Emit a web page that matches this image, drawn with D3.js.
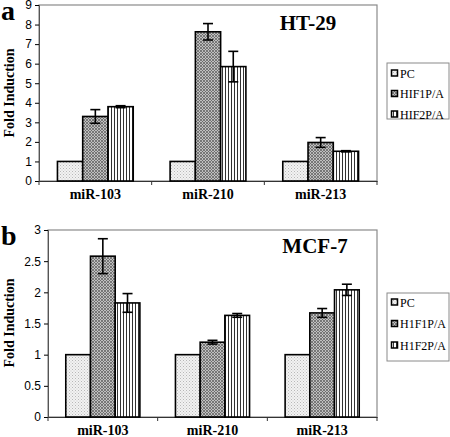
<!DOCTYPE html>
<html><head><meta charset="utf-8">
<script src="https://cdn.jsdelivr.net/npm/d3@7"></script>
<style>body{margin:0;background:#fff}svg{display:block}</style>
</head><body>
<svg id="c" width="450" height="437"></svg>
<script>
const categories = ["miR-103","miR-210","miR-213"];
const series = ["PC","HIF1P/A","HIF2P/A"];
const legendLabelsB = ["PC","H1F1P/A","H1F2P/A"];
// Panel a: HT-29
const htValues = [[1,1,1],[3.3,7.63,1.97],[3.8,5.85,1.52]];
const htErrors = [[0,0,0],[0.35,0.42,0.25],[0.05,0.78,0.03]];
const htTicks = [0,1,2,3,4,5,6,7,8,9];
// Panel b: MCF-7
const mcfValues = [[1,1,1],[2.58,1.2,1.67],[1.83,1.63,2.04]];
const mcfErrors = [[0,0,0],[0.28,0.03,0.07],[0.15,0.03,0.09]];
const mcfTicks = [0,0.5,1,1.5,2,2.5,3];

const svg = d3.select("#c");
const defs = svg.append("defs");
const p1 = defs.append("pattern").attr("id","pPC").attr("width",3).attr("height",3).attr("patternUnits","userSpaceOnUse");
p1.append("rect").attr("width",3).attr("height",3).attr("fill","#f2f2f2");
p1.append("rect").attr("x",0).attr("y",0).attr("width",1).attr("height",1).attr("fill","#b8b8b8");
p1.append("rect").attr("x",1.5).attr("y",1.5).attr("width",1).attr("height",1).attr("fill","#c8c8c8");
const p2 = defs.append("pattern").attr("id","pH1").attr("width",3).attr("height",3).attr("patternUnits","userSpaceOnUse");
p2.append("rect").attr("width",3).attr("height",3).attr("fill","#c0c0c0");
p2.append("path").attr("d","M0,0L3,3M3,0L0,3").attr("stroke","#666").attr("stroke-width",0.8);
const p3 = defs.append("pattern").attr("id","pH2").attr("width",3).attr("height",4).attr("patternUnits","userSpaceOnUse");
p3.append("rect").attr("width",3).attr("height",4).attr("fill","#fff");
p3.append("rect").attr("x",0).attr("width",1).attr("height",4).attr("fill","#333");
const fills = ["url(#pPC)","url(#pH1)","url(#pH2)"];

function panel(cfg){
  const g = svg.append("g");
  const {left,right,top,bottom,ymax,ticks,values,errors,letter,letterY,title,titleX,titleY,labelY,legend,legendLabels,outer} = cfg;
  const y = d3.scaleLinear().domain([0,ymax]).range([bottom,top]);
  const x0 = d3.scaleBand().domain(categories).range([left,right]).padding(0);
  const x1 = d3.scaleBand().domain(series).range([0,x0.bandwidth()]).paddingInner(0).paddingOuter(outer);
  g.append("rect").attr("x",left).attr("y",top).attr("width",right-left).attr("height",bottom-top)
    .attr("fill","none").attr("stroke","#8a8a8a").attr("stroke-width",1.2);
  const ya = g.append("g").attr("transform",`translate(${left},0)`)
    .call(d3.axisLeft(y).tickValues(ticks).tickSize(4).tickPadding(3).tickFormat(d3.format("")));
  ya.select(".domain").attr("stroke","#555");
  ya.selectAll("text").attr("font-family","Liberation Sans, Arial, sans-serif").attr("font-size",12).attr("fill","#000");
  const xa = g.append("g").attr("transform",`translate(0,${bottom})`)
    .call(d3.axisBottom(x0).tickSize(0).tickPadding(8));
  xa.select(".domain").attr("stroke","#333").attr("stroke-width",1.2);
  xa.selectAll("text").attr("font-family","Liberation Serif, Times New Roman, serif").attr("font-weight","bold").attr("font-size",14).attr("fill","#000");
  const bounds = categories.map(c=>x0(c)).concat([right]);
  g.selectAll(".gt").data(bounds).enter().append("line")
    .attr("x1",d=>d).attr("x2",d=>d).attr("y1",bottom).attr("y2",bottom+4).attr("stroke","#333");
  series.forEach((s,si)=>{
    categories.forEach((c,ci)=>{
      const v = values[si][ci];
      const bx = x0(c)+x1(s);
      g.append("rect").attr("x",bx).attr("y",y(v)).attr("width",x1.bandwidth()).attr("height",y(0)-y(v))
        .attr("fill",fills[si]).attr("stroke","#000").attr("stroke-width",1.6);
      const e = errors[si][ci];
      if(e>0){
        const cx = bx + x1.bandwidth()/2;
        g.append("line").attr("x1",cx).attr("x2",cx).attr("y1",y(v+e)).attr("y2",y(v-e)).attr("stroke","#000").attr("stroke-width",1.6);
        [v+e,v-e].forEach(t=>g.append("line").attr("x1",cx-5).attr("x2",cx+5).attr("y1",y(t)).attr("y2",y(t)).attr("stroke","#000").attr("stroke-width",1.6));
      }
    });
  });
  g.append("text").attr("x",1).attr("y",letterY).text(letter)
    .attr("font-family","Liberation Serif, Times New Roman, serif").attr("font-weight","bold").attr("font-size",28);
  g.append("text").attr("x",titleX).attr("y",titleY).attr("text-anchor","middle").text(title)
    .attr("font-family","Liberation Serif, Times New Roman, serif").attr("font-weight","bold").attr("font-size",21);
  g.append("text").attr("transform",`translate(${labelY[0]},${labelY[1]}) rotate(-90)`).attr("text-anchor","middle").text("Fold Induction")
    .attr("font-family","Liberation Serif, Times New Roman, serif").attr("font-weight","bold").attr("font-size",14);
  const lg = g.append("g");
  lg.append("rect").attr("x",legend.x).attr("y",legend.y).attr("width",legend.w).attr("height",legend.h)
    .attr("fill","#fff").attr("stroke","#8a8a8a").attr("stroke-width",1);
  legendLabels.forEach((l,i)=>{
    const ly = legend.y + legend.first + i*legend.step;
    lg.append("rect").attr("x",legend.x+4.5).attr("y",ly-3).attr("width",6).attr("height",6)
      .attr("fill",fills[i]).attr("stroke","#000").attr("stroke-width",1.5);
    lg.append("text").attr("x",legend.x+13).attr("y",ly+4.5).text(l)
      .attr("font-family","Liberation Serif, Times New Roman, serif").attr("font-size",12);
  });
}

panel({left:39,right:377,top:5,bottom:181,ymax:9,ticks:htTicks,values:htValues,errors:htErrors,
  letter:"a",letterY:20,title:"HT-29",titleX:308,titleY:30,labelY:[14,93],outer:0.73,
  legend:{x:387,y:63,w:62,h:56,first:10,step:20.5},legendLabels:series});
panel({left:48,right:377,top:230,bottom:417,ymax:3,ticks:mcfTicks,values:mcfValues,errors:mcfErrors,
  letter:"b",letterY:245,title:"MCF-7",titleX:315,titleY:253,labelY:[14,323],outer:0.72,
  legend:{x:387,y:293,w:62,h:68,first:9,step:21.5},legendLabels:legendLabelsB});
</script>
</body></html>
